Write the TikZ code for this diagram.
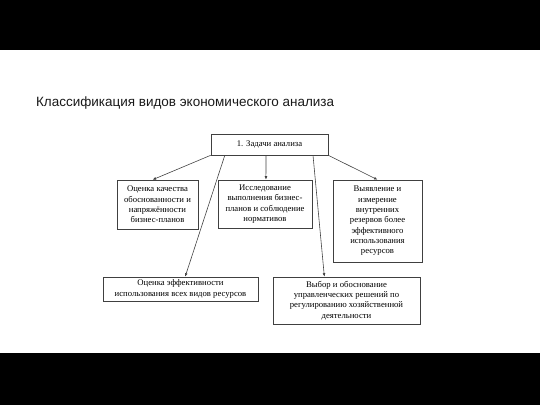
\documentclass[tikz,border=0pt]{standalone}
\usepackage{fontspec}
\setmainfont{Liberation Serif}
\newfontfamily\titlefont{Liberation Sans}
\usetikzlibrary{calc,arrows.meta}

\begin{document}
\begin{tikzpicture}[x=0.03cm, y=-0.03cm,
	box/.style={draw=black!75, line width=0.5pt, inner sep=1pt, align=center,
		font=\fontsize{7.4}{8.8}\selectfont, text=black},
	link/.style={draw=black!75, line width=0.5pt, -{Latex[length=3pt,width=2.4pt]}}]
	\useasboundingbox (0,0) rectangle (540,405);
	\fill[black] (0,0) rectangle (540,50);
	\fill[black] (0,353) rectangle (540,405);
	\node[anchor=west, font=\titlefont\fontsize{11.5}{13}\selectfont, text=black!90] (title) at (32,103) {Классификация видов экономического анализа};
	% tasks
	\node[box, minimum width=117*0.03cm, minimum height=21*0.03cm] (task) at (269.5,144.5) {1. Задачи анализа};
	\node[box, minimum width=81*0.03cm, minimum height=49*0.03cm] (plans) at (157.5,204.5) {Оценка качества\\обоснованности и\\напряжённости\\бизнес-планов};
	\node[box, minimum width=94*0.03cm, minimum height=48*0.03cm] (norms) at (265,204) {Исследование\\выполнения бизнес-\\планов и соблюдение\\нормативов};
	\node[box, minimum width=89*0.03cm, minimum height=82*0.03cm] (reserves) at (377.5,221) {Выявление и\\измерение\\внутренних\\резервов более\\эффективного\\использования\\ресурсов};
	\node[box, minimum width=155*0.03cm, minimum height=24*0.03cm] (resources) at (180.5,289) {Оценка эффективности\\использования всех видов ресурсов};
	\node[box, minimum width=147*0.03cm, minimum height=47*0.03cm] (decisions) at (346.5,300.5) {Выбор и обоснование\\управленческих решений по\\регулированию хозяйственной\\деятельности};
	% arrows
	\draw[link] (task.south west) -- ($(plans.north west)!0.44!(plans.north east)$);
	\draw[link] ($(task.south west)!0.12!(task.south east)$) -- ($(resources.north west)!0.53!(resources.north east)$);
	\draw[link] ($(task.south west)!0.47!(task.south east)$) -- ($(norms.north west)!0.51!(norms.north east)$);
	\draw[link] ($(task.south west)!0.87!(task.south east)$) -- ($(decisions.north west)!0.35!(decisions.north east)$);
	\draw[link] (task.south east) -- (reserves.north);
\end{tikzpicture}
\end{document}
